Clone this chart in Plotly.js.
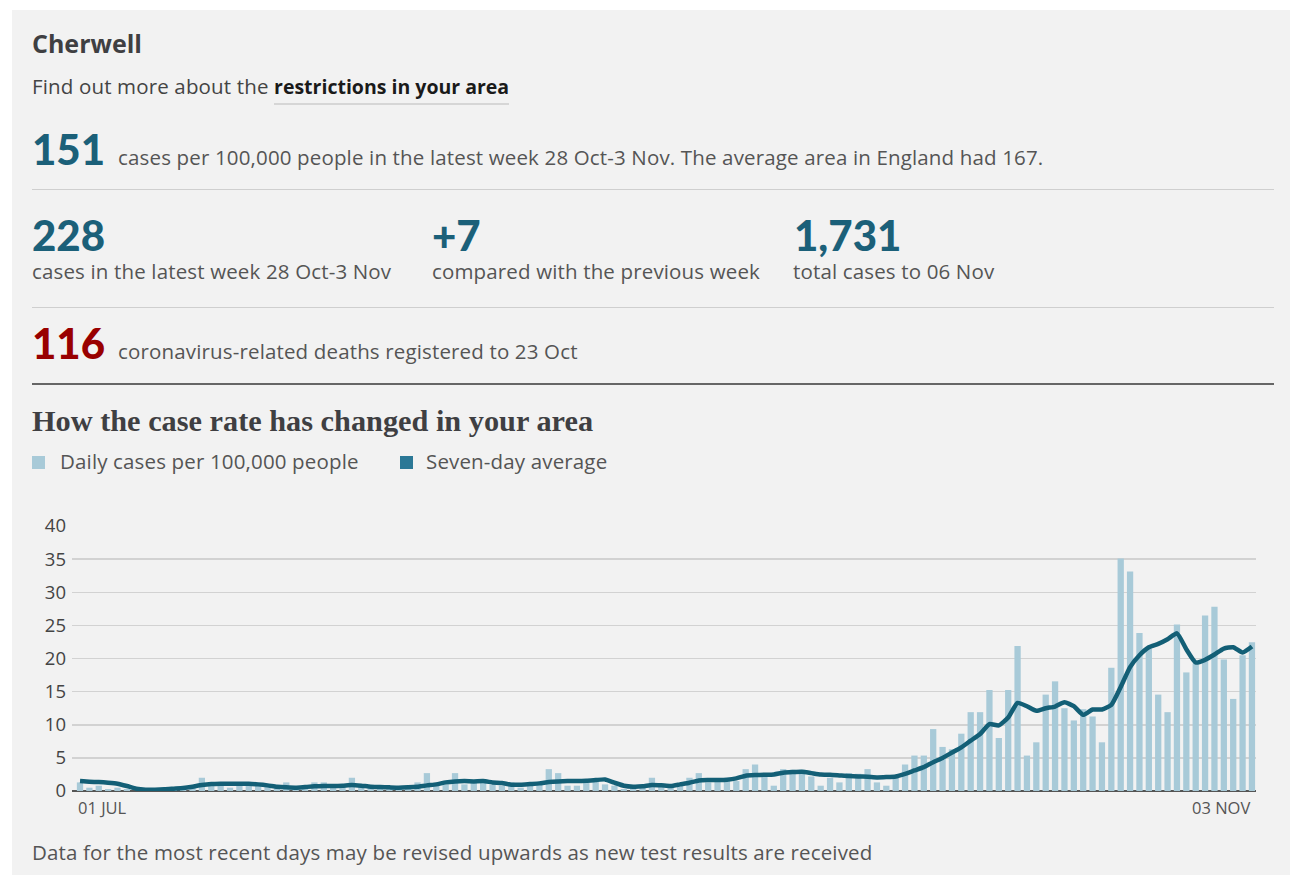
<!DOCTYPE html>
<html>
<head>
<meta charset="utf-8">
<script src="https://cdn.plot.ly/plotly-3.0.1.min.js"></script>
<style>
  html, body { margin:0; padding:0; background:#ffffff; }
  body { width:1292px; height:875px; position:relative; overflow:hidden; font-family:"Open Sans", "Lato", sans-serif; }
  #panel { position:absolute; left:12px; top:10px; width:1278px; height:865px; background:#f2f2f2; }
  #chart { position:absolute; left:0; top:0; width:1292px; height:875px; }
  .t { position:absolute; white-space:nowrap; color:#555; line-height:1; }
  .s { font-size:20.5px; letter-spacing:0.15px; }
  .hr { position:absolute; left:32px; width:1242px; height:1px; background:#cfcfcf; }
  .big { font-family:"Lato", sans-serif; font-weight:900; color:#1b6079; font-size:42px; letter-spacing:0; }
</style>
</head>
<body>
<div id="panel"></div>
<div id="chart"></div>

<div class="t" style="left:32px;top:31px;font-size:25px;font-weight:700;color:#3f3f42;">Cherwell</div>
<div class="t s" style="left:32px;top:76px;color:#444;">Find out more about the <span style="font-weight:700;color:#1a1a1a;font-size:19.5px;letter-spacing:0;border-bottom:2px solid #d6d6d6;padding-bottom:3px;">restrictions in your area</span></div>

<div class="t" style="left:32px;top:128px;"><span class="big">151</span><span class="s" style="margin-left:13px;">cases per 100,000 people in the latest week 28 Oct-3 Nov. The average area in England had 167.</span></div>
<div class="hr" style="top:189px;"></div>

<div class="t big" style="left:32px;top:214px;">228</div>
<div class="t big" style="left:432px;top:214px;">+7</div>
<div class="t big" style="left:794px;top:214px;">1,731</div>
<div class="t s" style="left:32px;top:261px;">cases in the latest week 28 Oct-3 Nov</div>
<div class="t s" style="left:432px;top:261px;">compared with the previous week</div>
<div class="t s" style="left:793px;top:261px;">total cases to 06 Nov</div>
<div class="hr" style="top:307px;"></div>

<div class="t" style="left:32px;top:322px;"><span class="big" style="color:#990000;">116</span><span class="s" style="margin-left:13px;">coronavirus-related deaths registered to 23 Oct</span></div>
<div class="hr" style="top:383px;height:2px;background:#666;"></div>

<div class="t" style="left:32px;top:406px;font-family:'Liberation Serif','DejaVu Serif',serif;font-weight:700;font-size:30.3px;color:#3f3f42;">How the case rate has changed in your area</div>
<div class="t" style="left:32px;top:456px;width:13px;height:13px;background:#a8cad8;"></div>
<div class="t s" style="left:60px;top:451px;">Daily cases per 100,000 people</div>
<div class="t" style="left:400px;top:456px;width:13px;height:13px;background:#2b7896;"></div>
<div class="t s" style="left:426px;top:451px;">Seven-day average</div>

<div class="t s" style="left:32px;top:842px;">Data for the most recent days may be revised upwards as new test results are received</div>

<script>
// ---- data ----
const startDate = "2020-07-01";
const dayCount = 126; // 01 Jul .. 03 Nov
const dailyCases = [
  1.3, 0.5, 0.8, 0.3, 0.5, 0.3, 0, 0.3, 0, 0,
  0.3, 0.3, 0.5, 2.0, 0.8, 0.8, 0.5, 0.8, 0.8, 1.0,
  0.8, 0.5, 1.3, 0.5, 0.3, 1.3, 1.3, 0.5, 0.8, 2.0,
  0.8, 0.5, 0.5, 0.3, 0.5, 0.8, 1.3, 2.7, 0.8, 1.0,
  2.7, 1.0, 1.3, 1.8, 1.0, 0.8, 1.3, 0.5, 1.0, 1.0,
  3.3, 2.7, 0.8, 0.8, 1.3, 1.5, 1.0, 0.8, 0.3, 0.5,
  0.8, 2.0, 0.8, 0.5, 0.8, 2.0, 2.7, 1.3, 1.5, 1.5,
  1.5, 3.3, 4.0, 2.2, 0.8, 3.3, 3.2, 3.2, 2.2, 0.8,
  2.0, 1.3, 2.7, 2.6, 3.3, 1.3, 0.8, 2.0, 4.0, 5.35,
  5.35, 9.35, 6.65, 6.3, 8.65, 11.9, 11.9, 15.25, 8.0, 15.25,
  21.9, 5.35, 7.35, 14.55, 16.55, 12.5, 10.65, 12.35, 11.25, 7.35,
  18.6, 35.1, 33.15, 23.85, 21.5, 14.55, 11.9, 25.15, 17.9, 19.25,
  26.5, 27.8, 19.85, 13.9, 20.5, 22.45
];
const sevenDayAvg = [
  1.5, 1.4, 1.35, 1.25, 1.1, 0.75, 0.35, 0.2, 0.2, 0.25,
  0.35, 0.45, 0.65, 0.9, 1.05, 1.1, 1.1, 1.1, 1.1, 1.0,
  0.85, 0.65, 0.55, 0.5, 0.6, 0.7, 0.75, 0.75, 0.8, 0.9,
  0.8, 0.65, 0.6, 0.55, 0.5, 0.55, 0.65, 0.85, 1.0, 1.3,
  1.45, 1.5, 1.45, 1.5, 1.3, 1.2, 0.95, 0.95, 1.05, 1.15,
  1.35, 1.45, 1.5, 1.5, 1.55, 1.65, 1.75, 1.25, 0.8, 0.65,
  0.7, 0.9, 0.85, 0.75, 1.0, 1.25, 1.6, 1.65, 1.65, 1.7,
  1.9, 2.3, 2.4, 2.45, 2.5, 2.75, 2.85, 2.9, 2.7, 2.5,
  2.45, 2.35, 2.25, 2.2, 2.15, 2.05, 2.1, 2.2, 2.6, 3.1,
  3.6, 4.35, 5.0, 5.8, 6.6, 7.6, 8.6, 10.1, 9.9, 11.1,
  13.3, 12.8, 12.1, 12.5, 12.75, 13.4, 12.8, 11.5, 12.3, 12.3,
  13.0, 15.7, 18.7, 20.5, 21.7, 22.2, 22.9, 23.8, 21.4, 19.4,
  19.8, 20.6, 21.5, 21.7, 20.9, 21.8
];
const yTickVals = [0, 5, 10, 15, 20, 25, 30, 35, 40];
const xEndLabels = ["01 JUL", "03 NOV"];

// category dates
const dates = [];
const d0 = new Date(startDate + "T00:00:00Z");
for (let i = 0; i < dayCount; i++) {
  const d = new Date(d0.getTime() + i * 86400000);
  dates.push(d.toISOString().slice(0, 10));
}

const traces = [
  {
    type: "bar", x: dates, y: dailyCases, name: "Daily cases per 100,000 people",
    marker: { color: "#a8cad8" }, hoverinfo: "x+y"
  },
  {
    type: "scatter", mode: "lines", x: dates, y: sevenDayAvg, name: "Seven-day average",
    line: { color: "#135f76", width: 4.5, shape: "spline", smoothing: 0.5 }, hoverinfo: "x+y"
  }
];

const layout = {
  width: 1292, height: 875,
  margin: { l: 72, r: 36, t: 526, b: 83.5, pad: 0 },
  paper_bgcolor: "rgba(0,0,0,0)", plot_bgcolor: "rgba(0,0,0,0)",
  showlegend: false,
  bargap: 0.33,
  font: { family: "Open Sans, Lato, sans-serif", color: "#444" },
  xaxis: {
    type: "date",
    range: ["2020-06-30 03:30", "2020-11-03 10:20"],
    showgrid: false, showticklabels: false, ticks: "", zeroline: false, showline: false
  },
  yaxis: {
    range: [0, 40], tickvals: yTickVals, ticks: "",
    showgrid: true, gridcolor: "#d2d2d2", gridwidth: 1.5,
    zeroline: true, zerolinecolor: "#555", zerolinewidth: 2,
    showline: false, ticklabelstandoff: 5,
    tickfont: { family: "Open Sans, sans-serif", size: 18.5, color: "#444" }
  },
  annotations: [
    { x: dates[0], y: 0, xref: "x", yref: "y", text: xEndLabels[0], showarrow: false,
      xanchor: "left", yanchor: "top", xshift: -4, yshift: -3,
      font: { family: "Open Sans, sans-serif", size: 16.5, color: "#555" } },
    { x: dates[dates.length - 1], y: 0, xref: "x", yref: "y", text: xEndLabels[1], showarrow: false,
      xanchor: "right", yanchor: "top", xshift: 0, yshift: -3,
      font: { family: "Open Sans, sans-serif", size: 16.5, color: "#555" } }
  ]
};

Plotly.newPlot("chart", traces, layout, { displayModeBar: false, staticPlot: true });
</script>
</body>
</html>
